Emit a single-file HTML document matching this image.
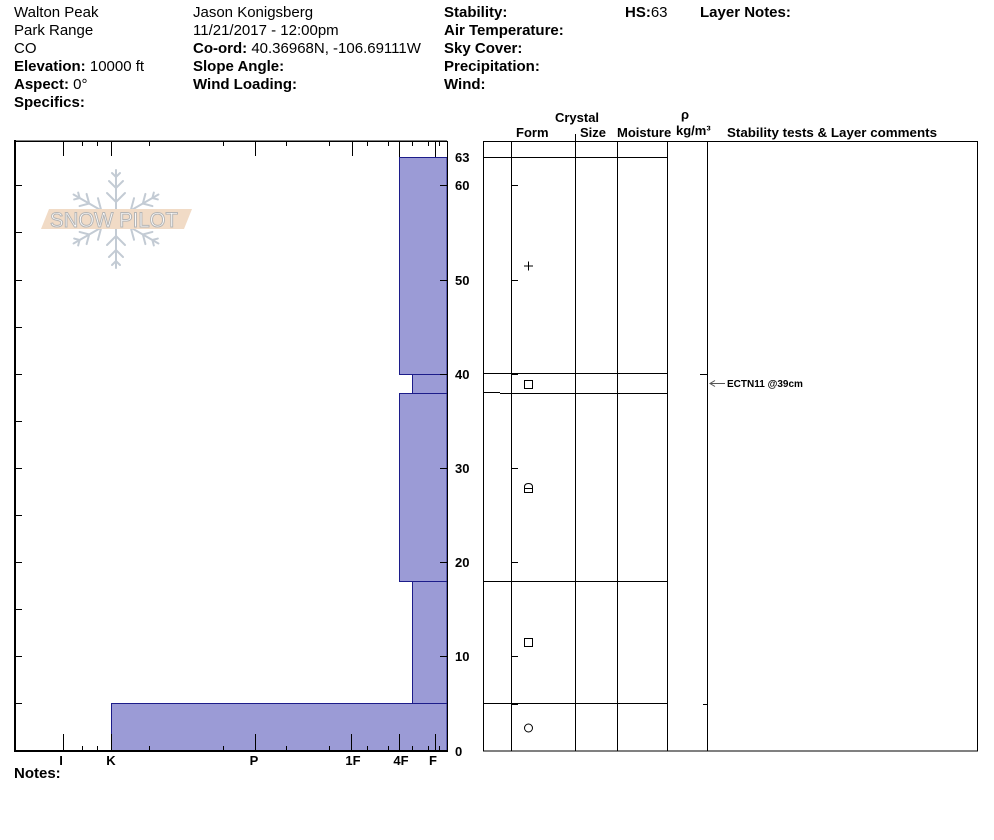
<!DOCTYPE html>
<html>
<head>
<meta charset="utf-8">
<style>
  html,body{margin:0;padding:0;background:#fff;}
  body{width:994px;height:840px;overflow:hidden;}
  svg{display:block;}
  .t{font-family:"Liberation Sans",Arial,sans-serif;font-size:15px;fill:#000;}
  .b{font-weight:bold;}
  .s{font-family:"Liberation Sans",Arial,sans-serif;font-size:13px;font-weight:bold;fill:#000;}
</style>
</head>
<body>
<svg width="994" height="840" viewBox="0 0 994 840" xmlns="http://www.w3.org/2000/svg">
  <rect width="994" height="840" fill="#fff"/>

  <!-- Header column 1 -->
  <text class="t" x="14" y="17">Walton Peak</text>
  <text class="t" x="14" y="35">Park Range</text>
  <text class="t" x="14" y="53">CO</text>
  <text class="t" x="14" y="71"><tspan class="b">Elevation:</tspan> 10000 ft</text>
  <text class="t" x="14" y="89"><tspan class="b">Aspect:</tspan> 0°</text>
  <text class="t b" x="14" y="107">Specifics:</text>

  <!-- Header column 2 -->
  <text class="t" x="193" y="17">Jason Konigsberg</text>
  <text class="t" x="193" y="35">11/21/2017 - 12:00pm</text>
  <text class="t" x="193" y="53"><tspan class="b">Co-ord:</tspan> 40.36968N, -106.69111W</text>
  <text class="t b" x="193" y="71">Slope Angle:</text>
  <text class="t b" x="193" y="89">Wind Loading:</text>

  <!-- Header column 3 -->
  <text class="t b" x="444" y="17">Stability:</text>
  <text class="t b" x="444" y="35">Air Temperature:</text>
  <text class="t b" x="444" y="53">Sky Cover:</text>
  <text class="t b" x="444" y="71">Precipitation:</text>
  <text class="t b" x="444" y="89">Wind:</text>
  <text class="t" x="625" y="17"><tspan class="b">HS:</tspan>63</text>
  <text class="t b" x="700" y="17">Layer Notes:</text>

  <!-- Logo -->
  <g stroke="#c3cbd4" stroke-width="2" fill="none" stroke-linecap="round">
    <g transform="translate(116,219)">
      <g id="arm">
        <line x1="0" y1="0" x2="0" y2="-49"/>
        <polyline points="-9,-26 0,-17 9,-26"/>
        <polyline points="-7,-38 0,-31 7,-38"/>
        <polyline points="-4,-46 0,-42 4,-46"/>
      </g>
      <use href="#arm" transform="rotate(60)"/>
      <use href="#arm" transform="rotate(120)"/>
      <use href="#arm" transform="rotate(180)"/>
      <use href="#arm" transform="rotate(240)"/>
      <use href="#arm" transform="rotate(300)"/>
    </g>
  </g>
  <polygon points="49,209 192,209 184,229 41,229" fill="#f1dbc6"/>
  <text x="50" y="227" font-family="'Liberation Sans',Arial,sans-serif" font-size="21" fill="#ffffff" stroke="#b5b5b5" stroke-width="1" textLength="128" lengthAdjust="spacingAndGlyphs">SNOW PILOT</text>

  <!-- Hardness bars -->
  <g fill="#9b9bd6" stroke="#1c1c8a" stroke-width="1">
    <rect x="111.5" y="703.5" width="335.5" height="47.5"/>
    <rect x="412.5" y="581.5" width="34.5" height="122"/>
    <rect x="399.5" y="393.5" width="47.5" height="188"/>
    <rect x="412.5" y="374.5" width="34.5" height="19"/>
    <rect x="399.5" y="157.5" width="47.5" height="217"/>
  </g>

  <!-- Left chart frame -->
  <g stroke="#000" fill="none" shape-rendering="crispEdges">
    <line x1="14" y1="141" x2="447" y2="141" stroke-width="1.5"/>
    <line x1="447.5" y1="141" x2="447.5" y2="752" stroke-width="1"/>
    <line x1="15" y1="140" x2="15" y2="752" stroke-width="2"/>
    <line x1="14" y1="751" x2="448" y2="751" stroke-width="2"/>
  </g>

  <!-- Top ticks -->
  <g stroke="#000" stroke-width="1" shape-rendering="crispEdges">
    <line x1="63.5" y1="141" x2="63.5" y2="156"/>
    <line x1="111.5" y1="141" x2="111.5" y2="156"/>
    <line x1="255.5" y1="141" x2="255.5" y2="156"/>
    <line x1="352.5" y1="141" x2="352.5" y2="156"/>
    <line x1="399.5" y1="141" x2="399.5" y2="157"/>
    <line x1="435.5" y1="141" x2="435.5" y2="157"/>
    <line x1="82.5" y1="141" x2="82.5" y2="146"/>
    <line x1="97.5" y1="141" x2="97.5" y2="146"/>
    <line x1="149.5" y1="141" x2="149.5" y2="146"/>
    <line x1="223.5" y1="141" x2="223.5" y2="146"/>
    <line x1="286.5" y1="141" x2="286.5" y2="146"/>
    <line x1="329.5" y1="141" x2="329.5" y2="146"/>
    <line x1="367.5" y1="141" x2="367.5" y2="146"/>
    <line x1="388.5" y1="141" x2="388.5" y2="146"/>
    <line x1="412.5" y1="141" x2="412.5" y2="146"/>
    <line x1="428.5" y1="141" x2="428.5" y2="146"/>
    <line x1="439.5" y1="141" x2="439.5" y2="146"/>
  </g>

  <!-- Bottom ticks -->
  <g stroke="#000" stroke-width="1" shape-rendering="crispEdges">
    <line x1="63.5" y1="734" x2="63.5" y2="751"/>
    <line x1="111.5" y1="734" x2="111.5" y2="751"/>
    <line x1="255.5" y1="734" x2="255.5" y2="751"/>
    <line x1="351.5" y1="734" x2="351.5" y2="751"/>
    <line x1="399.5" y1="734" x2="399.5" y2="751"/>
    <line x1="435.5" y1="734" x2="435.5" y2="751"/>
    <line x1="82.5" y1="746" x2="82.5" y2="751"/>
    <line x1="97.5" y1="746" x2="97.5" y2="751"/>
    <line x1="149.5" y1="746" x2="149.5" y2="751"/>
    <line x1="223.5" y1="746" x2="223.5" y2="751"/>
    <line x1="286.5" y1="746" x2="286.5" y2="751"/>
    <line x1="329.5" y1="746" x2="329.5" y2="751"/>
    <line x1="367.5" y1="746" x2="367.5" y2="751"/>
    <line x1="388.5" y1="746" x2="388.5" y2="751"/>
    <line x1="412.5" y1="746" x2="412.5" y2="751"/>
    <line x1="428.5" y1="746" x2="428.5" y2="751"/>
    <line x1="439.5" y1="746" x2="439.5" y2="751"/>
  </g>

  <!-- Left y ticks (every 5) -->
  <g stroke="#000" stroke-width="1" shape-rendering="crispEdges">
    <line x1="15" y1="185.5" x2="22" y2="185.5"/>
    <line x1="15" y1="232.5" x2="22" y2="232.5"/>
    <line x1="15" y1="280.5" x2="22" y2="280.5"/>
    <line x1="15" y1="327.5" x2="22" y2="327.5"/>
    <line x1="15" y1="374.5" x2="22" y2="374.5"/>
    <line x1="15" y1="421.5" x2="22" y2="421.5"/>
    <line x1="15" y1="468.5" x2="22" y2="468.5"/>
    <line x1="15" y1="515.5" x2="22" y2="515.5"/>
    <line x1="15" y1="562.5" x2="22" y2="562.5"/>
    <line x1="15" y1="609.5" x2="22" y2="609.5"/>
    <line x1="15" y1="656.5" x2="22" y2="656.5"/>
    <line x1="15" y1="703.5" x2="22" y2="703.5"/>
    <!-- right inner ticks every 10 -->
    <line x1="440" y1="185.5" x2="447" y2="185.5"/>
    <line x1="440" y1="280.5" x2="447" y2="280.5"/>
    <line x1="440" y1="374.5" x2="447" y2="374.5"/>
    <line x1="440" y1="468.5" x2="447" y2="468.5"/>
    <line x1="440" y1="562.5" x2="447" y2="562.5"/>
    <line x1="440" y1="656.5" x2="447" y2="656.5"/>
  </g>

  <!-- Y labels -->
  <text class="s" x="455" y="162">63</text>
  <text class="s" x="455" y="190">60</text>
  <text class="s" x="455" y="285">50</text>
  <text class="s" x="455" y="379">40</text>
  <text class="s" x="455" y="473">30</text>
  <text class="s" x="455" y="567">20</text>
  <text class="s" x="455" y="661">10</text>
  <text class="s" x="455" y="756">0</text>

  <!-- Hardness labels -->
  <text class="s" x="61" y="765" text-anchor="middle">I</text>
  <text class="s" x="111" y="765" text-anchor="middle">K</text>
  <text class="s" x="254" y="765" text-anchor="middle">P</text>
  <text class="s" x="353" y="765" text-anchor="middle">1F</text>
  <text class="s" x="401" y="765" text-anchor="middle">4F</text>
  <text class="s" x="433" y="765" text-anchor="middle">F</text>

  <text class="t b" x="14" y="778">Notes:</text>

  <!-- Table header -->
  <text class="s" x="577" y="122" text-anchor="middle">Crystal</text>
  <text class="s" x="516" y="137">Form</text>
  <text class="s" x="580" y="137">Size</text>
  <text class="s" x="617" y="137">Moisture</text>
  <text class="s" x="685" y="119" text-anchor="middle">ρ</text>
  <text class="s" x="676" y="135">kg/m³</text>
  <text class="s" x="727" y="137" textLength="210" lengthAdjust="spacingAndGlyphs">Stability tests &amp; Layer comments</text>

  <!-- Table -->
  <g stroke="#000" stroke-width="1" fill="none" shape-rendering="crispEdges">
    <rect x="483.5" y="141.5" width="494" height="609.5"/>
    <line x1="511.5" y1="141" x2="511.5" y2="751"/>
    <line x1="575.5" y1="141" x2="575.5" y2="751"/>
    <line x1="575.5" y1="134" x2="575.5" y2="141"/>
    <line x1="617.5" y1="141" x2="617.5" y2="751"/>
    <line x1="667.5" y1="141" x2="667.5" y2="751"/>
    <line x1="707.5" y1="141" x2="707.5" y2="751"/>
    <line x1="483" y1="157.5" x2="668" y2="157.5"/>
    <line x1="483" y1="373.5" x2="668" y2="373.5"/>
    <line x1="483" y1="392.5" x2="500" y2="392.5"/>
    <line x1="500" y1="393.5" x2="668" y2="393.5"/>
    <line x1="483" y1="581.5" x2="668" y2="581.5"/>
    <line x1="483" y1="703.5" x2="668" y2="703.5"/>
    <!-- small ticks -->
    <line x1="511" y1="185.5" x2="518" y2="185.5"/>
    <line x1="511" y1="280.5" x2="518" y2="280.5"/>
    <line x1="511" y1="374.5" x2="518" y2="374.5"/>
    <line x1="511" y1="468.5" x2="518" y2="468.5"/>
    <line x1="511" y1="562.5" x2="518" y2="562.5"/>
    <line x1="511" y1="656.5" x2="518" y2="656.5"/>
    <line x1="511" y1="704.5" x2="518" y2="704.5"/>
    <line x1="700" y1="374.5" x2="707" y2="374.5"/>
    <line x1="703" y1="704.5" x2="707" y2="704.5"/>
  </g>

  <!-- Grain form symbols -->
  <g stroke="#000" stroke-width="1" fill="none">
    <line x1="524" y1="266" x2="533" y2="266"/>
    <line x1="528.5" y1="261.5" x2="528.5" y2="270.5"/>
    <rect x="524.5" y="380.5" width="8" height="8"/>
    <path d="M524.5,492.5 V487 Q524.5,483.5 528.5,483.5 Q532.5,483.5 532.5,487 V492.5 Z M524.5,488.5 H532.5"/>
    <rect x="524.5" y="638.5" width="8" height="8"/>
    <circle cx="528.5" cy="728" r="4"/>
  </g>

  <!-- Stability test comment -->
  <g stroke="#555" stroke-width="1" fill="none">
    <line x1="710" y1="383.5" x2="725" y2="383.5"/>
    <polyline points="715,380.5 710,383.5 715,386.5"/>
  </g>
  <text x="727" y="387" font-family="'Liberation Sans',Arial,sans-serif" font-size="10" font-weight="bold" fill="#000">ECTN11 @39cm</text>
</svg>
</body>
</html>
